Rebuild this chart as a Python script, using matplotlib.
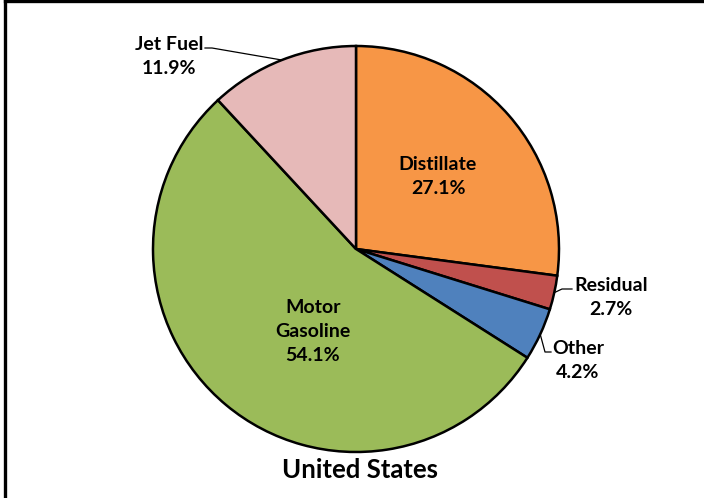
import numpy as np
import matplotlib
matplotlib.use("Agg")
from matplotlib import pyplot as plt

labels = ["Distillate", "Residual", "Other", "Motor\nGasoline", "Jet Fuel"]
shares = [27.1, 2.7, 4.2, 54.1, 11.9]
colors = ["#F79646", "#C0504D", "#4F81BD", "#9BBB59", "#E6B9B8"]
title = "United States"

W, H = 704, 498
CX, CY, R = 356, 249, 203

plt.rcParams['font.family'] = ['Lato', 'DejaVu Sans']


def Y(p):
    # pixel row -> data y
    return H - p


fig = plt.figure(figsize=(W / 100, H / 100), dpi=100)
ax = fig.add_axes([0, 0, 1, 1])

wedges, _ = ax.pie(shares, colors=colors, startangle=90, counterclock=False,
                   center=(CX, Y(CY)), radius=R,
                   wedgeprops=dict(edgecolor="black", linewidth=1.8))
ax.set_xlim(0, W)
ax.set_ylim(0, H)
ax.set_aspect("auto")
ax.axis("off")


def edge(w):
    a = np.deg2rad((w.theta1 + w.theta2) / 2)
    return CX + R * np.cos(a), Y(CY) + R * np.sin(a)


def pct(i):
    return "%s\n%.1f%%" % (labels[i], shares[i])


tkw = dict(ha="center", va="center", fontsize=14, fontweight="bold",
           linespacing=1.5, color="black")

# inside labels
ax.text(438, Y(176), pct(0), **tkw)
ax.text(313, Y(331), pct(3), **tkw)

# outside labels with leader lines
ax.text(169, Y(56), pct(4), **tkw)
ex, ey = edge(wedges[4])
ax.plot([205, 212, ex], [Y(48), Y(48), ey], color="black", lw=0.9)

ax.text(611, Y(297), pct(1), **tkw)
ex, ey = edge(wedges[1])
ax.plot([ex, 562, 572], [ey, Y(289), Y(289)], color="black", lw=0.9)

ax.text(578, Y(360), pct(2), **tkw)
ex, ey = edge(wedges[2])
ax.plot([ex, 545, 551], [ey, Y(352), Y(352)], color="black", lw=0.9)

ax.text(360, Y(470), title, ha="center", va="center", fontsize=18.5,
        fontweight="bold", color="black")

# frame (left and top edges only)
ax.plot([5, 5], [0, H], color="black", lw=2.4, clip_on=False)
ax.plot([5, W], [H - 1, H - 1], color="black", lw=2.4, clip_on=False)

fig.savefig("out.png", dpi=100)
